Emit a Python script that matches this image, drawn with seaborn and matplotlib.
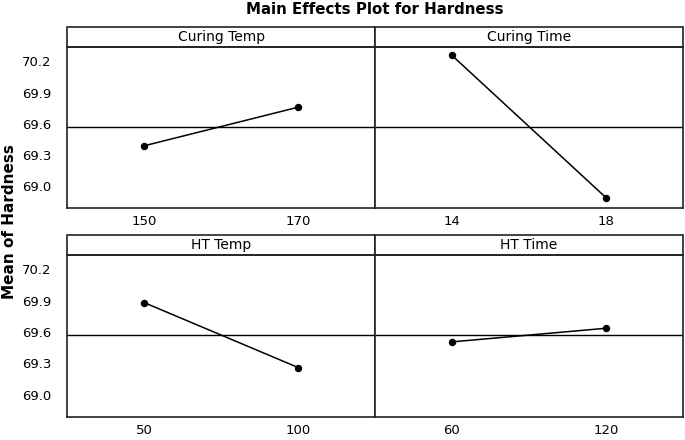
import matplotlib
matplotlib.use("Agg")
import matplotlib.pyplot as plt
import pandas as pd
import seaborn as sns
from matplotlib.patches import Rectangle

sns.set_theme(style="white")
plt.rcParams["font.family"] = ["DejaVu Sans"]
plt.rcParams["text.color"] = "black"

factors = ["Curing Temp", "Curing Time", "HT Temp", "HT Time"]
levels = {
    "Curing Temp": [150, 170],
    "Curing Time": [14, 18],
    "HT Temp": [50, 100],
    "HT Time": [60, 120],
}
means = {
    "Curing Temp": [69.39, 69.76],
    "Curing Time": [70.257, 68.892],
    "HT Temp": [69.88, 69.26],
    "HT Time": [69.505, 69.635],
}
grand_mean = 69.57
y_ticks = [69.0, 69.3, 69.6, 69.9, 70.2]


if __name__ == "__main__":
    fig = plt.figure(figsize=(6.85, 4.4), dpi=100)

    W, H = 685.0, 440.0
    # panel boxes in pixels: (left, top, right, bottom)
    boxes = [
        (67.3, 47.3, 375, 208.3),
        (375, 47.3, 683, 208.3),
        (67.3, 255, 375, 416.7),
        (375, 255, 683, 416.7),
    ]
    strip_h = 20.0
    edge = "#222222"

    for i, (name, (l, t, r, b)) in enumerate(zip(factors, boxes)):
        ax = fig.add_axes([l / W, 1 - b / H, (r - l) / W, (b - t) / H])
        df = pd.DataFrame({"level": levels[name], "mean": means[name]})
        sns.pointplot(data=df, x="level", y="mean", ax=ax, color="black",
                      errorbar=None, markers="o", markersize=4.5, linewidth=1.1)
        ax.axhline(grand_mean, color="black", lw=1.0, zorder=1)
        ax.set_ylim(68.79, 70.335)
        ax.set_xlim(-0.5, 1.5)
        ax.set_xlabel("")
        ax.set_ylabel("")
        ax.set_yticks(y_ticks)
        for s in ax.spines.values():
            s.set_color(edge)
            s.set_linewidth(1.2)
        ax.tick_params(axis="x", direction="in", length=2.5, width=0.8,
                       colors=edge, labelcolor="black", labelsize=9.5, pad=5)
        if i % 2 == 0:
            ax.set_yticklabels([f"{v:.1f}" for v in y_ticks])
            ax.tick_params(axis="y", direction="out", length=4.3, width=0.8,
                           colors=edge, labelcolor="black", labelsize=9.5, pad=7)
        else:
            ax.tick_params(axis="y", left=False, labelleft=False)

        # strip header
        sh = strip_h / (b - t)
        ax.add_patch(Rectangle((0, 1), 1, sh, transform=ax.transAxes,
                               facecolor="white", edgecolor=edge, lw=1.2,
                               clip_on=False))
        ax.text(0.5, 1 + sh / 2, name, transform=ax.transAxes, ha="center",
                va="center", fontsize=10, color="black")

    fig.text(375 / W, 1 - 9 / H, "Main Effects Plot for Hardness", ha="center",
             va="center", fontsize=10.8, fontweight="bold")
    fig.text(10 / W, 1 - 222 / H, "Mean of Hardness", ha="center", va="center",
             rotation=90, fontsize=11, fontweight="bold")

    fig.savefig("out.png", dpi=100)
